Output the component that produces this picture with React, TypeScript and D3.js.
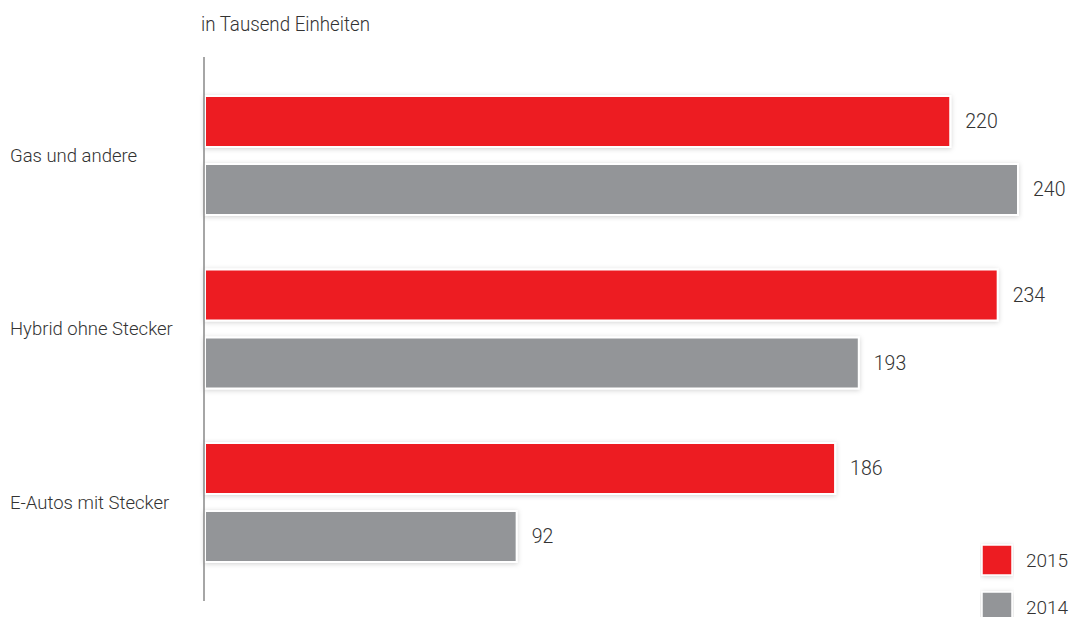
import React from "react";
import * as d3 from "d3";

const categories = ["Gas und andere", "Hybrid ohne Stecker", "E-Autos mit Stecker"];
const series2015 = [220, 234, 186];
const series2014 = [240, 193, 92];
const seriesNames = ["2015", "2014"];
const title = "in Tausend Einheiten";

const W = 1077;
const H = 617;
const RED = "#ED1C24";
const GRAY = "#939598";
const FONT = "Roboto, 'Noto Sans', sans-serif";

export default function App() {
  const x = d3.scaleLinear().domain([0, 240]).range([205, 1018]);
  const y0 = d3.scaleBand<string>().domain(categories).range([79, 599.5]).paddingInner(0).paddingOuter(0);
  const inner = d3.scaleBand<string>().domain(seriesNames).range([17, 136]).paddingInner(0.25).paddingOuter(0);
  const colors = [RED, GRAY];
  const data = [series2015, series2014];

  return (
    <div style={{ position: "absolute", left: 0, top: 0 }}>
      <svg width={W} height={H} style={{ display: "block" }}>
        <defs>
          <filter id="sh" x="-5%" y="-30%" width="110%" height="160%">
            <feDropShadow dx="0" dy="1" stdDeviation="2.5" floodColor="#000" floodOpacity="0.18" />
          </filter>
        </defs>
        <text x={201} y={31} fontFamily={FONT} fontWeight={300} fontSize={20} textLength={169} lengthAdjust="spacingAndGlyphs" fill="#333">
          {title}
        </text>
        {categories.map((c, ci) => {
          const gy = y0(c)!;
          return (
            <g key={c}>
              {data.map((s, si) => {
                const by = gy + inner(seriesNames[si])!;
                const bh = inner.bandwidth();
                return (
                  <g key={si}>
                    <rect
                      x={x(0)}
                      y={by}
                      width={x(s[ci]) - x(0)}
                      height={bh}
                      fill={colors[si]}
                      stroke="#fff"
                      strokeWidth={2}
                      filter="url(#sh)"
                    />
                    <text
                      x={x(s[ci]) + 15}
                      y={by + bh / 2}
                      dy="0.35em"
                      fontFamily={FONT}
                      fontWeight={300}
                      fontSize={19.5}
                      fill="#333"
                    >
                      {s[ci]}
                    </text>
                  </g>
                );
              })}
              <text
                x={10}
                y={gy + 76.5}
                dy="0.35em"
                fontFamily={FONT}
                fontWeight={300}
                fontSize={18.5}
                fill="#333"
              >
                {c}
              </text>
            </g>
          );
        })}
        <line x1={204} x2={204} y1={57} y2={601} stroke="#888" strokeWidth={1.5} />
        {seriesNames.map((n, i) => (
          <g key={n}>
            <rect x={982} y={545 + i * 47} width={30} height={30} fill={colors[i]} stroke="#fff" strokeWidth={1.5} filter="url(#sh)" />
            <text x={1026} y={560 + i * 47} dy="0.35em" fontFamily={FONT} fontWeight={300} fontSize={19} fill="#333">
              {n}
            </text>
          </g>
        ))}
      </svg>
    </div>
  );
}
